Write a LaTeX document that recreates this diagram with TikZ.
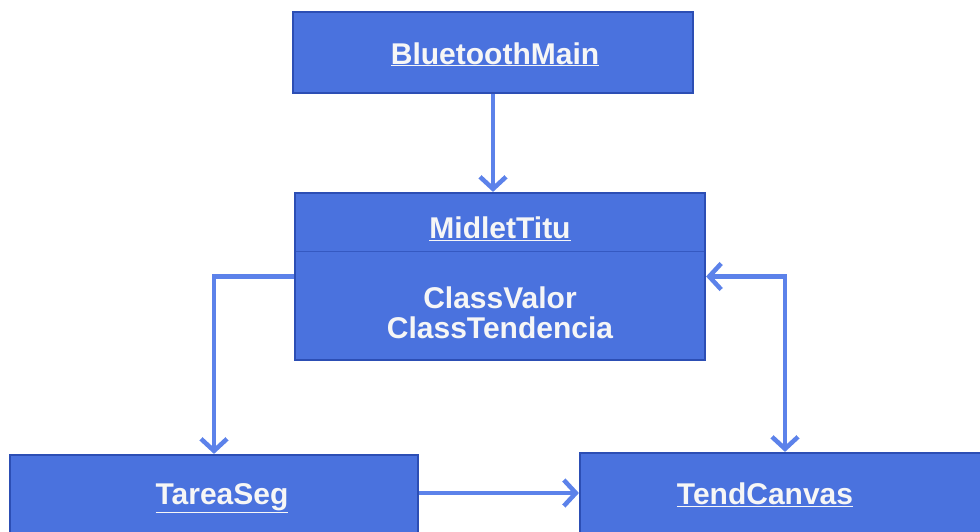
\documentclass[tikz,border=0pt]{standalone}
\usepackage{fontspec}
\setmainfont{Liberation Sans}
\usetikzlibrary{arrows.meta,calc}
\definecolor{boxfill}{RGB}{74,114,222}
\definecolor{boxedge}{RGB}{44,78,180}
\definecolor{linkblue}{RGB}{92,130,234}
\definecolor{labelwhite}{RGB}{246,246,246}
\tikzset{
  classbox/.style={draw=boxedge, line width=2.2pt, fill=boxfill, inner sep=0pt},
  label/.style={text=labelwhite, font=\bfseries\fontsize{30}{35}\selectfont, anchor=base, inner sep=0pt},
  barb/.tip={Straight Barb[length=12pt,width=26pt,line width=4.5pt]},
  link/.style={draw=linkblue, line width=4.5pt, -barb},
  dlink/.style={draw=linkblue, line width=4.5pt, barb-barb}
}
\begin{document}
\begin{tikzpicture}[x=1pt,y=-1pt]
\clip (0,0) rectangle (980,531);
\fill[white] (0,0) rectangle (980,531);

% class boxes
\node[classbox, minimum width=400pt, minimum height=81pt] (blue) at (493,52.5) {};
\node[classbox, minimum width=410pt, minimum height=167pt] (mid) at (500,276.5) {};
\node[classbox, minimum width=408pt, minimum height=80pt] (tarea) at (214,495) {};
\node[classbox, minimum width=410pt, minimum height=82pt] (tend) at (785,494) {};

% compartment divider of MidletTitu
\draw[boxedge!70!boxfill, line width=1.2pt] ($(mid.west)+(2,-25)$) coordinate (dl) -- ($(mid.east)+(-2,-25)$) coordinate (dr);

% labels (placed by baseline)
\node[label] (tblue) at (495,64) {\underline{BluetoothMain}};
\node[label] (tmid) at (500,238) {\underline{MidletTitu}};
\node[label] (tval) at (500,308) {ClassValor};
\node[label] (ttdc) at (500,338) {ClassTendencia};
\node[label] (ttarea) at (222,504) {\underline{TareaSeg}};
\node[label] (ttend) at (765,504) {\underline{TendCanvas}};

% connectors
\draw[link] (blue.south) -- (blue.south |- mid.north);
\draw[link] (mid.west) -| (tarea.north);
\draw[dlink] (mid.east) -| (tend.north);
\draw[link] (tarea.east |- 0,493) -- (tend.west |- 0,493);
\end{tikzpicture}
\end{document}
